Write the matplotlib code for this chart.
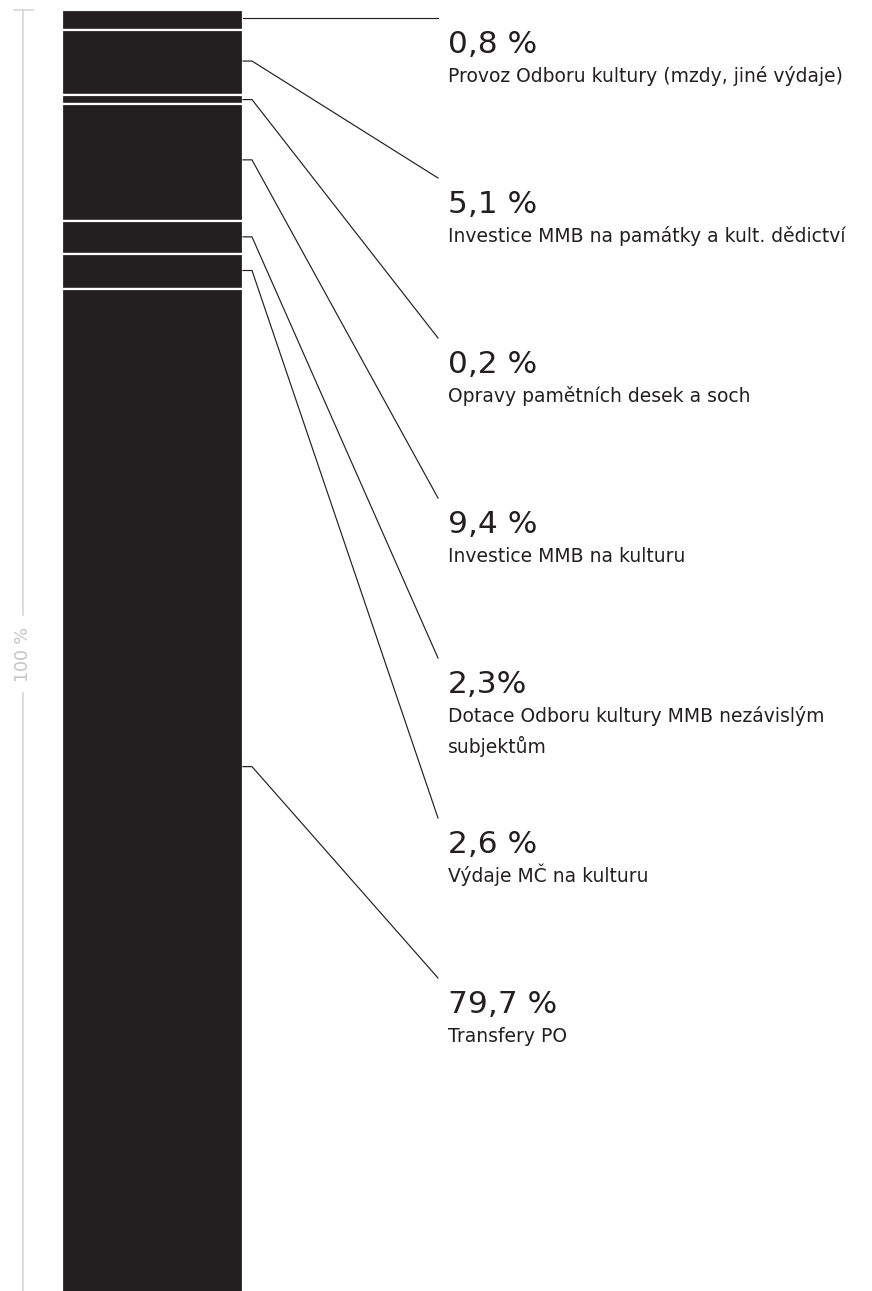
import matplotlib.pyplot as plt
import numpy as np

# Vydaje na kulturu - jeden sloupec rozdeleny na useky
popisky_procent = ["0,8 %", "5,1 %", "0,2 %", "9,4 %", "2,3%", "2,6 %", "79,7 %"]
nazvy = [
    "Provoz Odboru kultury (mzdy, jiné výdaje)",
    "Investice MMB na památky a kult. dědictví",
    "Opravy pamětních desek a soch",
    "Investice MMB na kulturu",
    "Dotace Odboru kultury MMB nezávislým\nsubjektům",
    "Výdaje MČ na kulturu",
    "Transfery PO",
]
# vyska useku ve sloupci (v % sloupce), odhadnuto z obrazku
vysky_useku = [1.56, 5.08, 0.70, 9.10, 2.56, 2.68, 78.32]
osa_popisek = "100 %"

cerna = '#231f20'
seda = '#d2d2d2'

W, H = 872, 1291
fig = plt.figure(figsize=(W / 100, H / 100), dpi=100)

# sloupec - y v procentech, 0 nahore
ax = fig.add_axes([0, 0, 1, 1])
px_na_procento = 12.85
horni_okraj = 10
y_top = -horni_okraj / px_na_procento
ax.set_xlim(0, W)
ax.set_ylim(y_top + H / px_na_procento, y_top)
ax.axis('off')

spodky = np.concatenate([[0], np.cumsum(vysky_useku)[:-1]])
ax.bar(152.5, vysky_useku, bottom=spodky, width=181, color=cerna,
       edgecolor='white', linewidth=1.6)

# vrstva pro popisky a vodici cary (pixely, 0 nahore)
lay = fig.add_axes([0, 0, 1, 1])
lay.set_xlim(0, W)
lay.set_ylim(H, 0)
lay.axis('off')
lay.patch.set_alpha(0)

for i in range(len(vysky_useku)):
    y_kotva = spodky[i] + 0.475 * vysky_useku[i]
    y_px = H - ax.transData.transform((0, y_kotva))[1]
    horni = 30 + 160 * i          # horni hrana velkeho cisla
    y_konec = horni - 12
    if i == 0:
        y_px = y_konec            # prvni cara je vodorovna
    lay.plot([243, 252, 438], [y_px, y_px, y_konec], color=cerna, lw=0.85)

    zaklad = horni + 23
    lay.text(448, zaklad, popisky_procent[i], fontsize=22.5, color=cerna,
             va='baseline', ha='left')
    for k, radek in enumerate(nazvy[i].split('\n')):
        lay.text(448, zaklad + 29 + 31 * k, radek, fontsize=13.5, color=cerna,
                 va='baseline', ha='left')

# leva osa 100 %
lay.plot([14, 33], [10, 10], color=seda, lw=1.1)
lay.plot([23, 23], [10, 615], color=seda, lw=1.1)
lay.plot([23, 23], [693, H], color=seda, lw=1.1)
lay.text(23, 654, osa_popisek, rotation=90, fontsize=12.5, color='#c4c4c4',
         ha='center', va='center')

fig.savefig('out.png', dpi=100)
